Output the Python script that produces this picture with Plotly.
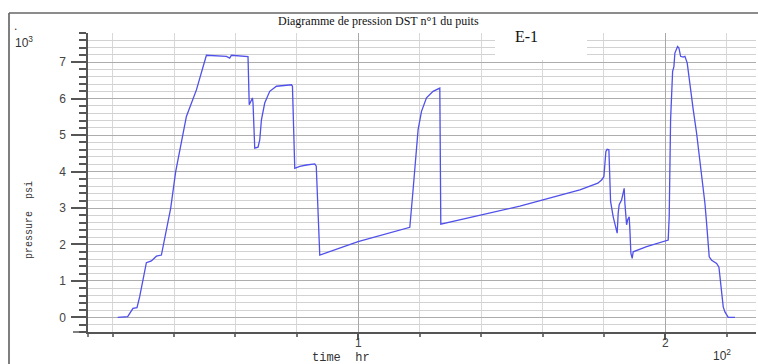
import plotly.graph_objects as go

# DST n°1 pressure record: time in 10^2 hr, pressure in 10^3 psi
time_hr = [
    0.2166, 0.2492, 0.2664, 0.2795, 0.2883, 0.2990, 0.3101, 0.3264, 0.3427, 0.3590,
    0.3642, 0.3697, 0.3893, 0.4055, 0.4300, 0.4404, 0.4730, 0.4893, 0.5055, 0.5707,
    0.5814, 0.5870, 0.6358, 0.6410, 0.6450, 0.6554, 0.6573, 0.6629, 0.6736, 0.6792,
    0.6847, 0.6954, 0.7117, 0.7336, 0.7824, 0.7857, 0.7932, 0.8094, 0.8313, 0.8583,
    0.8632, 0.8746, 0.9993, 1.1678, 1.1785, 1.1873, 1.1948, 1.2059, 1.2221, 1.2436,
    1.2655, 1.2687, 1.5261, 1.7215, 1.7801, 1.7922, 1.7997, 1.8062, 1.8104, 1.8160,
    1.8192, 1.8215, 1.8300, 1.8388, 1.8430, 1.8463, 1.8495, 1.8573, 1.8625, 1.8658,
    1.8681, 1.8736, 1.8769, 1.8821, 1.8844, 1.8876, 1.8919, 1.8951, 1.9388, 2.0091,
    2.0124, 2.0147, 2.0169, 2.0235, 2.0277, 2.0309, 2.0397, 2.0440, 2.0495, 2.0580,
    2.0635, 2.0710, 2.0798, 2.0906, 2.1016, 2.1124, 2.1212, 2.1287, 2.1342, 2.1427,
    2.1505, 2.1668, 2.1743, 2.1792, 2.1831, 2.1883, 2.1938, 2.2046, 2.2264,
]
pressure_psi = [
    0.00, 0.02, 0.25, 0.27, 0.57, 1.02, 1.50, 1.55, 1.68, 1.71,
    1.94, 2.12, 3.00, 4.00, 5.10, 5.51, 6.24, 6.75, 7.19, 7.16,
    7.11, 7.19, 7.14, 7.15, 5.83, 6.02, 5.88, 4.64, 4.67, 4.87,
    5.42, 5.88, 6.20, 6.34, 6.38, 6.34, 4.09, 4.14, 4.18, 4.21,
    4.15, 1.71, 2.08, 2.47, 3.50, 4.41, 5.15, 5.65, 6.02, 6.20,
    6.29, 2.56, 3.05, 3.50, 3.68, 3.77, 3.86, 4.55, 4.61, 4.60,
    3.82, 3.18, 2.76, 2.40, 2.31, 2.86, 3.09, 3.22, 3.41, 3.54,
    3.13, 2.54, 2.67, 2.76, 2.40, 1.76, 1.62, 1.80, 1.94, 2.12,
    2.76, 4.96, 5.42, 6.75, 6.88, 7.25, 7.43, 7.39, 7.16, 7.14,
    7.16, 6.98, 6.34, 5.70, 5.05, 4.32, 3.77, 3.13, 2.58, 1.66,
    1.57, 1.48, 1.38, 1.05, 0.75, 0.29, 0.15, 0.00, 0.00,
]

y_ticks = [0, 1, 2, 3, 4, 5, 6, 7]
x_ticks = [1, 2]

W, H = 758, 364
ML, MR, MT, MB = 88, 2, 33, 32
PW, PH = W - ML - MR, H - MT - MB


def px(x):
    return (x - ML) / PW


def py(y):
    return (H - MB - y) / PH


fig = go.Figure()
fig.add_trace(go.Scatter(
    x=time_hr, y=pressure_psi, mode="lines",
    line=dict(color="rgb(80,80,235)", width=1.3),
    hoverinfo="skip", showlegend=False,
))

axis_col = "#555555"
tick_font = dict(family="Liberation Sans, Arial, sans-serif", size=12, color="#444444")

fig.update_layout(
    width=W, height=H,
    margin=dict(l=ML, r=MR, t=MT, b=MB, pad=0),
    paper_bgcolor="white", plot_bgcolor="white",
    xaxis=dict(
        range=[0.12, 2.295], tickmode="array", tickvals=x_ticks,
        ticktext=[str(v) for v in x_ticks],
        showline=True, linecolor=axis_col, linewidth=1.5,
        ticks="outside", ticklen=6, tickwidth=1.5, tickcolor=axis_col,
        ticklabelstandoff=-7,
        showgrid=True, gridcolor="#a8a8a8", gridwidth=1,
        zeroline=False, tickfont=tick_font,
        minor=dict(tickmode="linear", tick0=0, dtick=0.2, ticks="outside",
                   ticklen=3, tickcolor="#777777",
                   showgrid=True, gridcolor="#d8d8d8", gridwidth=1),
    ),
    yaxis=dict(
        range=[-0.4, 7.8], tickmode="array", tickvals=y_ticks,
        showline=True, linecolor=axis_col, linewidth=1.5,
        ticks="outside", ticklen=15, tickwidth=1.5, tickcolor=axis_col,
        ticklabelstandoff=3,
        showgrid=True, gridcolor="#adadad", gridwidth=1,
        zeroline=False, tickfont=tick_font,
        minor=dict(tickmode="linear", tick0=0, dtick=0.2, ticks="outside",
                   ticklen=7, tickcolor=axis_col,
                   showgrid=True, gridcolor="#d2d2d2", gridwidth=1),
    ),
)

shapes = [
    # outer frame (left and top edges)
    dict(type="line", xref="paper", yref="paper", x0=px(9), x1=px(9),
         y0=py(13), y1=py(366), line=dict(color="#555555", width=1.5)),
    dict(type="line", xref="paper", yref="paper", x0=px(9), x1=px(760),
         y0=py(13), y1=py(13), line=dict(color="#666666", width=1.5)),
    # axis line stubs past the origin corner
    dict(type="line", xref="paper", yref="paper", x0=px(73), x1=0,
         y0=0, y1=0, line=dict(color=axis_col, width=1.5)),
    dict(type="line", xref="paper", yref="paper", x0=0, x1=0,
         y0=py(337), y1=0, line=dict(color=axis_col, width=1.5)),
    # white label box for the well name
    dict(type="rect", xref="paper", yref="paper", x0=px(495), x1=px(587),
         y0=py(60), y1=py(15), fillcolor="white", line=dict(width=0),
         layer="above"),
]
fig.update_layout(shapes=shapes)

serif = "Liberation Serif, Times New Roman, serif"
mono = "Liberation Mono, Courier New, monospace"
sans = "Liberation Sans, Arial, sans-serif"

annotations = [
    dict(text="Diagramme de pression DST n°1 du puits", x=px(378), y=py(21),
         font=dict(family=serif, size=12, color="#111111")),
    dict(text="E-1", x=px(526), y=py(36),
         font=dict(family=serif, size=16, color="#111111")),
    dict(text="10<sup>3</sup>", x=px(24), y=py(42),
         font=dict(family=sans, size=12, color="#333333")),
    dict(text=".", x=px(15), y=py(26),
         font=dict(family=sans, size=12, color="#333333")),
    dict(text="10<sup>2</sup>", x=px(722), y=py(355),
         font=dict(family=sans, size=12, color="#333333")),
    dict(text="time  hr", x=px(341), y=py(357.5),
         font=dict(family=mono, size=12, color="#333333")),
    dict(text="pressure  psi", x=px(29), y=py(220), textangle=-90,
         font=dict(family=mono, size=10, color="#333333")),
]
for a in annotations:
    a.update(xref="paper", yref="paper", showarrow=False,
             xanchor="center", yanchor="middle")
fig.update_layout(annotations=annotations)

fig.write_html("out.html")
